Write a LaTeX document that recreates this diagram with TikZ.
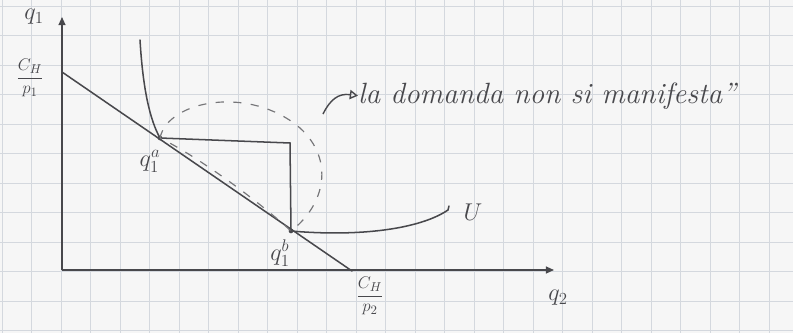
\documentclass[tikz,border=0pt]{standalone}
\usepackage{tikz}
\usetikzlibrary{arrows.meta,positioning}
\definecolor{ink}{RGB}{72,72,76}
\definecolor{paper}{RGB}{246,246,246}
\definecolor{gridline}{RGB}{212,216,222}
\tikzset{
  axis_line/.style = {
    draw=ink,
    line width=1.3pt,
    -{Triangle[length=7pt,width=6pt]}
  },
  ink_line/.style = {
    draw=ink,
    line width=1.3pt,
    line cap=round
  },
  hidden_line/.style = {
    draw=ink!75,
    line width=1pt,
    dash pattern=on 7pt off 8pt
  },
  note_arrow/.style = {
    draw=ink,
    line width=1.2pt,
    -{Triangle[open,length=7pt,width=8pt]}
  },
  label/.style = {
    text=ink,
    font=\fontsize{20}{24}\selectfont,
    inner sep=1pt
  },
  frac_label/.style = {
    text=ink,
    font=\fontsize{15}{18}\selectfont,
    inner sep=1pt
  }
}

\begin{document}
\begin{tikzpicture}[x=0.03cm, y=-0.03cm]

% Foglio a quadretti
\fill[paper] (0,0) rectangle (793,333);
\useasboundingbox (0,0) rectangle (793,333);
\foreach \gx in {2,31.5,...,793}
  \draw[gridline, line width=0.6pt] (\gx,0) -- (\gx,333);
\foreach \gy in {6,35.5,...,333}
  \draw[gridline, line width=0.6pt] (0,\gy) -- (793,\gy);

% Punti del grafico
\coordinate (origin) at (62,270);
\coordinate (ytip) at (62,17);
\coordinate (xtip) at (554,270);
\coordinate (yint) at (62,72);
\coordinate (xint) at (352,271);
\coordinate (qa) at (160,138);
\coordinate (qb) at (291,231);
\coordinate (corner) at (290,143);
\coordinate (utop) at (140,40);
\coordinate (uend) at (448,210);
\coordinate (loopnote) at (323,114);

% Assi
\draw[axis_line] (origin) -- (ytip);
\draw[axis_line] (origin) -- (xtip);

% Vincolo di bilancio
\draw[ink_line] (yint) -- (xint);

% Curva di indifferenza U
\draw[ink_line] (utop) .. controls (143,90) and (150,120) .. (qa);
\draw[ink_line] (qb) .. controls (360,237) and (420,229) .. (uend) -- (449,206);

% Spostamento da qa a qb
\draw[ink_line] (qa) -- (corner) -- (qb);
\fill[ink] (qa) circle (2pt) (qb) circle (2pt);

% Parte non convessa (tratteggiata)
\draw[hidden_line] (qa) .. controls (168,100) and (250,85) .. (300,128)
  .. controls (335,160) and (325,205) .. (qb)
  .. controls (255,198) and (195,155) .. (qa);

% Etichette
\node[label] (q1lab) at (34,17) {$q_1$};
\node[frac_label] (yintlab) at (30,78) {$\displaystyle\frac{C_H}{p_1}$};
\node[frac_label] (xintlab) at (370,296) {$\displaystyle\frac{C_H}{p_2}$};
\node[label] (q2lab) at (558,298) {$q_2$};
\node[label] (qalab) at (150,161) {$q^a_1$};
\node[label] (qblab) at (280,253) {$q^b_1$};
\node[label] (ulab) at (473,212) {$U$};

% Nota
\node[text=ink, anchor=base west, inner sep=0pt,
      font=\fontsize{25}{28}\selectfont\itshape] (note) at (358,103)
  {la domanda non si manifesta''};
\draw[note_arrow] (loopnote) .. controls (330,100) and (338,93) .. (note.west);

\end{tikzpicture}
\end{document}
